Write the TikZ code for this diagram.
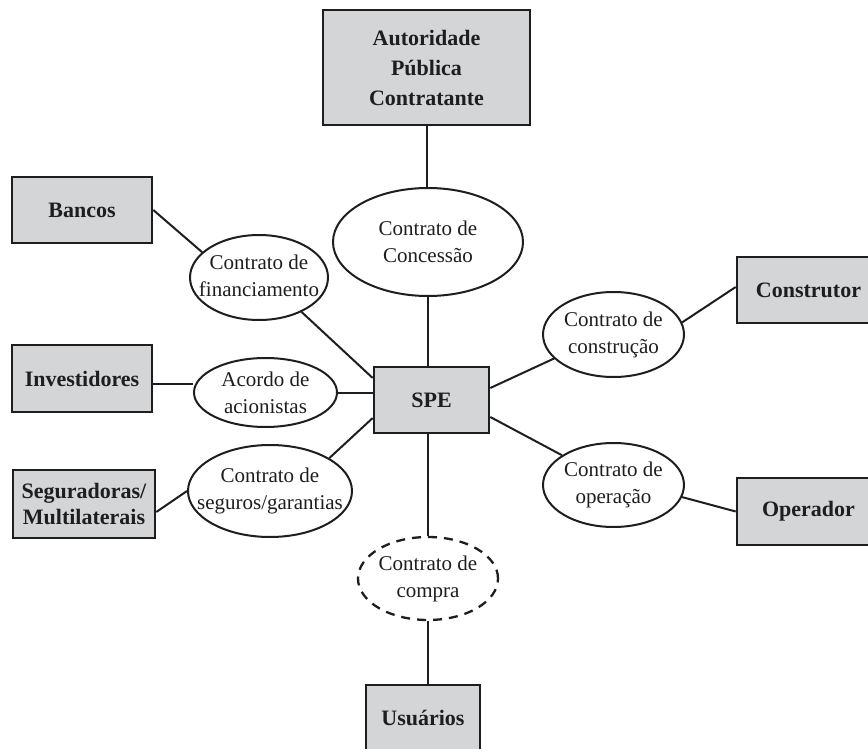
\documentclass[tikz,border=0pt]{standalone}
\usepackage{fontspec}
\setmainfont{Liberation Serif}
\usetikzlibrary{shapes.geometric}
\definecolor{boxgray}{RGB}{212,213,215}
\definecolor{ink}{RGB}{30,30,30}
\begin{document}
\begin{tikzpicture}[x=1pt,y=-1pt,
  box/.style={draw=ink, line width=2.6pt, fill=boxgray, inner sep=0pt, align=center,
    font=\fontsize{22}{30}\selectfont\bfseries, text=ink},
  ell/.style={draw=ink, line width=2pt, ellipse, inner sep=0pt, fill=white},
  etxt/.style={align=center, inner sep=0pt, font=\fontsize{21}{27}\selectfont, text=ink},
  link/.style={draw=ink, line width=2pt}]
\useasboundingbox (0,0) rectangle (868,749);
\clip (0,0) rectangle (868,749);

% boxes
\node[box, minimum width=207pt, minimum height=115pt] (auth) at (426.5,67.5) {Autoridade\\Pública\\Contratante};
\node[box, minimum width=140pt, minimum height=66pt] (bancos) at (82,210) {Bancos};
\node[box, minimum width=140pt, minimum height=67pt] (invest) at (82,378.5) {Investidores};
\node[box, minimum width=142pt, minimum height=68pt, font=\fontsize{22}{26}\selectfont\bfseries] (segur) at (84,504) {Seguradoras/\\Multilaterais};
\node[box, minimum width=115pt, minimum height=66pt] (spe) at (431.5,400) {SPE};
\node[box, minimum width=143pt, minimum height=66pt] (constr) at (808.5,290) {Construtor};
\node[box, minimum width=143pt, minimum height=67pt] (oper) at (808.5,511.5) {Operador};
\node[box, minimum width=114pt, minimum height=66pt] (usu) at (423,718) {Usuários};

% ellipses
\node[ell, minimum width=190pt, minimum height=108pt] (conc) at (428,242) {};
\node[ell, minimum width=138pt, minimum height=85pt] (fin) at (259,277.5) {};
\node[ell, minimum width=143pt, minimum height=69pt] (acordo) at (265.5,392.5) {};
\node[ell, minimum width=164pt, minimum height=92pt] (seg) at (270,491) {};
\node[ell, minimum width=141pt, minimum height=85pt] (cc) at (613.5,334.5) {};
\node[ell, minimum width=141pt, minimum height=84pt] (co) at (613.5,485) {};
\node[ell, minimum width=140pt, minimum height=83pt, dash pattern=on 9pt off 7pt, line width=2.3pt] (compra) at (428,578.5) {};

% ellipse texts
\node[etxt] (tconc) at (conc) {Contrato de\\Concessão};
\node[etxt] (tfin) at ([yshift=2pt]fin.center) {Contrato de\\financiamento};
\node[etxt] (tacordo) at (acordo) {Acordo de\\acionistas};
\node[etxt] (tseg) at (seg) {Contrato de\\seguros/garantias};
\node[etxt] (tcc) at (cc) {Contrato de\\construção};
\node[etxt] (tco) at (co) {Contrato de\\operação};
\node[etxt] (tcompra) at (compra) {Contrato de\\compra};

% connectors
\draw[link] (auth.south) -- (auth.south |- conc.north);
\draw[link] (conc.south) -- (conc.south |- spe.north);
\draw[link] (bancos.east) -- (fin.156);
\draw[link] (fin.-39) -- ([yshift=22pt]spe.west);
\draw[link] ([yshift=-5.5pt]invest.east) -- ([yshift=-5.5pt]invest.east -| acordo.west);
\draw[link] (acordo.east) -- (acordo.east -| spe.west);
\draw[link] ([yshift=-8pt]segur.east) -- (seg.west);
\draw[link] (seg.29) -- ([yshift=-18pt]spe.west);
\draw[link] ([yshift=12pt]spe.east) -- (cc.202);
\draw[link] (cc.10) -- ([yshift=3pt]constr.west);
\draw[link] ([yshift=-17pt]spe.east) -- (co.150);
\draw[link] (co.-10) -- (oper.west);
\draw[link] (compra.north |- spe.south) -- (compra.north);
\draw[link] (compra.south) -- (compra.south |- usu.north);
\end{tikzpicture}
\end{document}
